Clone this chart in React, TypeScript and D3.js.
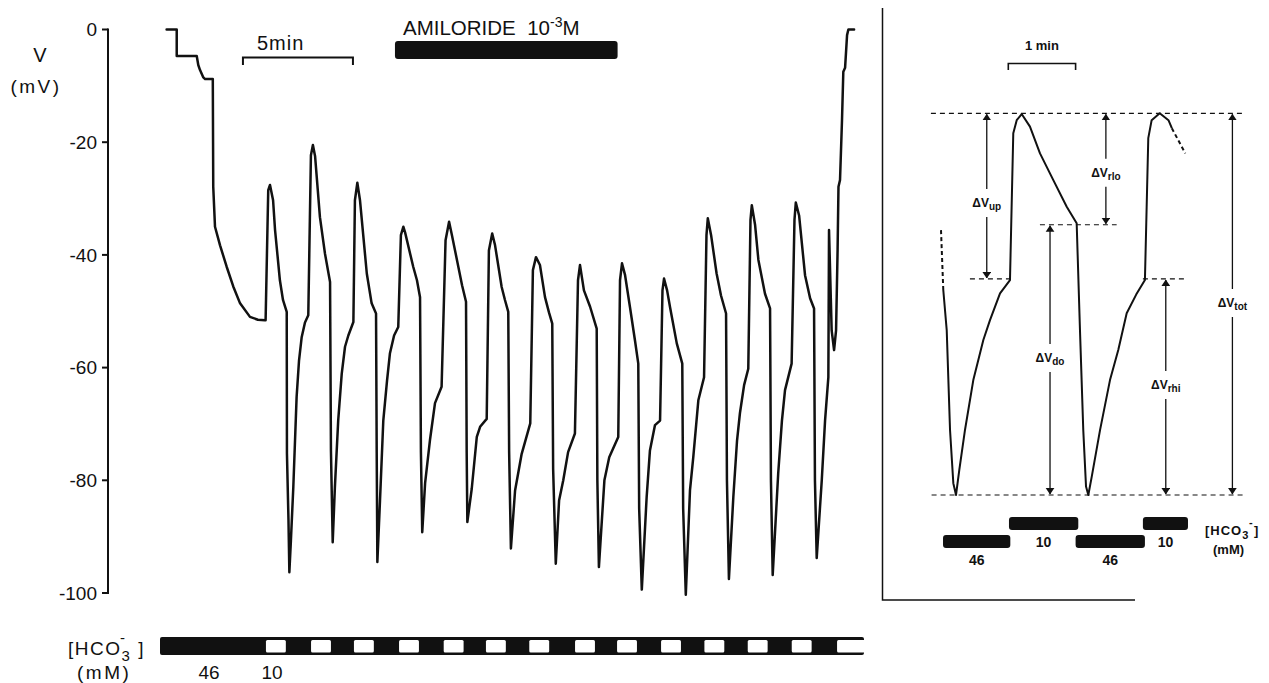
import * as d3 from "d3";

// ---- main record: time (min) vs membrane potential (mV) ----
const vTicks = [0, -20, -40, -60, -80, -100];

const membranePotential: [number, number][] = [
  [0.3, 0], [0.76, 0], [0.76, -4.7], [1.67, -4.7], [1.74, -6.3], [1.82, -7.2], [1.97, -8.5],
  [2.05, -8.8], [2.4, -8.8], [2.42, -27.9], [2.5, -35.0], [2.73, -38.3], [3.03, -42.1],
  [3.33, -45.6], [3.64, -48.6], [4.09, -51.0], [4.45, -51.5], [4.77, -51.6],
  // cycle 1
  [4.8, -51.6], [4.92, -28.5], [5.0, -27.6], [5.14, -30.3], [5.23, -35.6], [5.45, -44.5],
  [5.59, -48.0], [5.76, -50.1], [5.77, -75.2], [5.84, -87.1], [5.88, -96.3], [5.95, -90.7],
  [6.06, -81.2], [6.21, -65.2], [6.32, -58.7], [6.44, -54.6], [6.59, -52.0], [6.74, -50.7],
  // cycle 2
  [6.86, -22.3], [6.95, -20.5], [7.05, -22.5], [7.27, -33.3], [7.5, -39.8], [7.73, -44.8],
  [7.77, -74.7], [7.85, -91.0], [7.95, -81.2], [8.1, -69.4], [8.26, -61.1], [8.41, -56.3],
  [8.56, -54.3], [8.79, -51.9],
  // cycle 3
  [8.86, -30.3], [8.97, -27.2], [9.09, -30.3], [9.4, -43.3], [9.62, -48.6], [9.82, -50.4],
  [9.85, -75.0], [9.88, -94.5], [10.0, -83.6], [10.15, -69.4], [10.32, -62.3], [10.45, -57.5],
  [10.64, -54.3], [10.83, -52.8],
  // cycle 4
  [10.95, -36.5], [11.06, -35.0], [11.14, -36.0], [11.51, -42.1], [11.68, -44.5], [11.82, -47.5],
  [11.86, -75.0], [11.92, -89.2], [12.05, -80.5], [12.27, -72.9], [12.5, -66.3], [12.8, -63.4],
  // cycle 5
  [12.98, -37.4], [13.14, -34.1], [13.27, -36.5], [13.56, -42.1], [13.73, -45.4], [13.91, -48.3],
  [13.94, -75.0], [13.97, -87.4], [14.17, -81.5], [14.4, -72.3], [14.55, -70.5], [14.85, -69.1],
  // cycle 6
  [14.95, -39.2], [15.1, -36.2], [15.23, -38.3], [15.53, -45.7], [15.68, -48.0], [15.83, -50.1],
  [15.87, -75.0], [15.95, -92.1], [16.14, -81.8], [16.44, -75.3], [16.83, -69.9],
  // cycle 7
  [16.95, -42.7], [17.09, -40.4], [17.27, -41.8], [17.5, -47.5], [17.68, -50.2], [17.83, -52.2],
  [17.87, -78.0], [17.99, -94.8], [18.14, -83.6], [18.33, -80.0], [18.55, -75.0], [18.86, -71.7],
  // cycle 8
  [19.0, -44.5], [19.09, -41.8], [19.27, -46.3], [19.55, -49.2], [19.85, -53.1], [19.88, -80.0],
  [19.95, -95.4], [20.2, -80.0], [20.42, -75.9], [20.83, -72.3],
  // cycle 9
  [20.91, -44.5], [21.0, -41.5], [21.14, -43.6], [21.36, -49.2], [21.59, -55.2], [21.74, -59.3],
  [21.78, -85.0], [21.9, -99.4], [22.12, -83.0], [22.27, -74.7], [22.5, -70.2], [22.73, -69.4],
  // cycle 10
  [22.84, -46.3], [22.91, -44.2], [23.05, -46.3], [23.18, -49.2], [23.49, -55.7], [23.74, -59.3],
  [23.78, -85.0], [23.9, -100.3], [24.09, -81.8], [24.24, -75.9], [24.47, -65.8], [24.73, -61.7],
  // cycle 11
  [24.84, -36.5], [24.9, -33.5], [25.05, -36.5], [25.3, -43.3], [25.5, -47.2], [25.73, -50.4],
  [25.77, -80.0], [25.86, -97.5], [26.06, -83.0], [26.23, -72.9], [26.36, -68.1], [26.55, -63.1],
  [26.74, -60.2],
  // cycle 12
  [26.84, -33.8], [26.9, -31.2], [27.05, -34.7], [27.2, -40.9], [27.5, -46.9], [27.73, -49.5],
  [27.77, -80.0], [27.85, -96.8], [28.1, -78.8], [28.27, -69.4], [28.41, -64.0], [28.71, -59.3],
  // cycle 13 + washout
  [28.84, -33.8], [28.9, -30.7], [29.05, -33.0], [29.32, -43.6], [29.55, -47.7], [29.73, -49.5],
  [29.77, -80.0], [29.85, -93.8], [30.08, -80.0], [30.23, -69.4], [30.38, -61.7], [30.41, -35.6],
  [30.53, -53.4], [30.64, -56.9], [30.73, -53.4], [30.8, -39.1], [30.84, -27.9], [30.91, -26.7],
  [31.0, -16.1], [31.06, -7.5], [31.14, -6.8], [31.23, -1.0], [31.29, 0], [31.55, 0],
];

// 10 mM HCO3- periods (min); rest of the bar is 46 mM
const lowHco3: [number, number][] = [
  [4.77, 5.72], [6.82, 7.77], [8.77, 9.72], [10.82, 11.77], [12.85, 13.8], [14.77, 15.72],
  [16.74, 17.69], [18.82, 19.77], [20.73, 21.68], [22.73, 23.68], [24.7, 25.65], [26.67, 27.62],
  [28.67, 29.62], [30.73, 32.1],
];
const recordEnd = 32;
const amiloride: [number, number] = [10.68, 20.8];
const scaleBar: [number, number] = [3.77, 8.77];

// ---- inset: one schematic cycle (min, relative mV) ----
const insetDashHead: [number, number][] = [[0, -30.6], [0.034, -46.3]];
const insetTrace: [number, number][] = [
  [0.034, -46.3], [0.085, -56.8], [0.134, -82.9], [0.183, -96.9], [0.223, -100], [0.272, -93.4],
  [0.357, -82.9], [0.48, -69.9], [0.629, -59.4], [0.728, -54.2], [0.877, -47.2], [1.025, -43.7],
  [1.074, -5.2], [1.125, -1.8], [1.199, -0.2], [1.322, -3.5], [1.471, -10.5], [1.669, -17.5],
  [1.868, -24.5], [2.016, -28.8], [2.065, -56.8], [2.114, -83.0], [2.155, -97.8], [2.189, -100],
  [2.24, -95.2], [2.363, -83.0], [2.511, -69.9], [2.634, -62.0], [2.759, -52.4], [2.9, -47.5],
  [3.03, -43.7], [3.08, -6.5], [3.13, -1.8], [3.25, 0], [3.38, -1.8], [3.43, -3.9],
];
const insetDashTail: [number, number][] = [[3.43, -3.9], [3.63, -10.5]];

const levelPeak = 0;
const levelRlo = -29.2;
const levelUp = -43.4;
const levelTrough = -100;

const insetGuides = [
  { t0: -0.15, t1: 4.52, v: levelPeak },
  { t0: 1.47, t1: 2.61, v: levelRlo },
  { t0: 0.43, t1: 1.03, v: levelUp },
  { t0: 3.0, t1: 3.63, v: levelUp },
  { t0: -0.14, t1: 4.52, v: levelTrough },
];

const insetArrows = [
  { sub: "up", t: 0.68, from: levelPeak, to: levelUp, lv: -23.5 },
  { sub: "rlo", t: 2.45, from: levelPeak, to: levelRlo, lv: -15.6 },
  { sub: "do", t: 1.62, from: levelRlo, to: levelTrough, lv: -64.1 },
  { sub: "rhi", t: 3.34, from: levelUp, to: levelTrough, lv: -71.2 },
  { sub: "tot", t: 4.33, from: levelPeak, to: levelTrough, lv: -49.7 },
];

const insetHco3 = [
  { c: "46", t0: 0.03, t1: 1.03 },
  { c: "10", t0: 1.01, t1: 2.04 },
  { c: "46", t0: 2.0, t1: 3.03 },
  { c: "10", t0: 3.0, t1: 3.67 },
];

const FONT = "'Liberation Sans', Arial, sans-serif";

export default function App() {
  const x = d3.scaleLinear().domain([0, recordEnd]).range([160, 864]);
  const y = d3.scaleLinear().domain([0, -100]).range([29.5, 593]);
  const line = d3.line<[number, number]>().x((d) => x(d[0])).y((d) => y(d[1]));

  const xi = d3.scaleLinear().domain([0, 1]).range([941, 1008.3]);
  const yi = d3.scaleLinear().domain([0, -100]).range([113.3, 495]);
  const lineIn = d3.line<[number, number]>().x((d) => xi(d[0])).y((d) => yi(d[1]));

  const axisX = 108;
  const barTop = 637;
  const barBot = 655;

  return (
    <div style={{ position: "absolute", left: 0, top: 0 }}>
      <svg width={1269} height={683} style={{ display: "block", background: "#fff" }} fontFamily={FONT}>
        <defs>
          <marker id="ah" viewBox="0 0 6 8" refX="5.5" refY="4" markerWidth="5" markerHeight="7" orient="auto">
            <path d="M0,0 L6,4 L0,8 Z" fill="#111" />
          </marker>
        </defs>

        {/* y axis */}
        <line x1={axisX} x2={axisX} y1={y(0) - 1} y2={y(-100) + 1} stroke="#111" strokeWidth={2} />
        {vTicks.map((t) => (
          <g key={t}>
            <line x1={axisX - 6} x2={axisX} y1={y(t)} y2={y(t)} stroke="#111" strokeWidth={2} />
            <text x={97} y={y(t)} dy="0.36em" textAnchor="end" fontSize={19} fill="#111">
              {t === 0 ? "0" : `-${Math.abs(t)}`}
            </text>
          </g>
        ))}
        <text x={40} y={62} textAnchor="middle" fontSize={20} fill="#111">V</text>
        <text x={36} y={93} textAnchor="middle" fontSize={19} letterSpacing={2.5} fill="#111">(mV)</text>

        {/* 5 min scale bar */}
        <path
          d={`M${x(scaleBar[0])},65 V57.5 H${x(scaleBar[1])} V65`}
          fill="none"
          stroke="#111"
          strokeWidth={2}
        />
        <text x={257} y={50} fontSize={20} letterSpacing={1} fill="#111">5min</text>

        {/* amiloride */}
        <text x={403} y={35} fontSize={20.5} fill="#111">
          AMILORIDE{"\u00a0\u00a0"}10
          <tspan dy={-8} fontSize={14}>-3</tspan>
          <tspan dy={8}>M</tspan>
        </text>
        <rect
          x={x(amiloride[0])}
          y={41}
          width={x(amiloride[1]) - x(amiloride[0])}
          height={18}
          rx={3}
          fill="#111"
        />

        {/* membrane potential trace */}
        <path
          d={line(membranePotential) ?? ""}
          fill="none"
          stroke="#111"
          strokeWidth={2.5}
          strokeLinejoin="round"
          strokeLinecap="round"
        />

        {/* HCO3 bar */}
        <rect x={x(0)} y={barTop} width={x(recordEnd) - x(0)} height={barBot - barTop} rx={2} fill="#111" />
        {lowHco3.map(([a, b], i) => (
          <rect
            key={i}
            x={x(a) + 1}
            y={barTop + 3}
            width={Math.min(x(b), x(recordEnd) + 2) - x(a) - 1}
            height={barBot - barTop - 5.5}
            rx={1.5}
            fill="#fff"
          />
        ))}
        <text x={68} y={655} fontSize={19} letterSpacing={1.5} fill="#111">
          [HCO
          <tspan dy={6} fontSize={15}>3</tspan>
          <tspan dy={-6}>{"\u00a0"}]</tspan>
        </text>
        <text x={120} y={643} fontSize={15} fill="#111">-</text>
        <text x={77} y={679} fontSize={19} letterSpacing={2.5} fill="#111">(mM)</text>
        <text x={209} y={679} textAnchor="middle" fontSize={19} fill="#111">46</text>
        <text x={272} y={679} textAnchor="middle" fontSize={19} fill="#111">10</text>

        {/* ---------- inset ---------- */}
        <path d="M882.5,8 V600 H1135" fill="none" stroke="#111" strokeWidth={1.5} />

        {/* 1 min bar */}
        <path d={`M${xi(1)},70 V63.5 H${xi(2)} V70`} fill="none" stroke="#111" strokeWidth={1.6} />
        <text x={xi(1.5)} y={50} textAnchor="middle" fontSize={13} fontWeight="bold" fill="#111">
          1 min
        </text>

        {insetGuides.map((g, i) => (
          <line
            key={i}
            x1={xi(g.t0)}
            x2={xi(g.t1)}
            y1={yi(g.v)}
            y2={yi(g.v)}
            stroke="#111"
            strokeWidth={1.2}
            strokeDasharray="5,4"
          />
        ))}

        <path d={lineIn(insetDashHead) ?? ""} fill="none" stroke="#111" strokeWidth={2} strokeDasharray="4,3" />
        <path d={lineIn(insetTrace) ?? ""} fill="none" stroke="#111" strokeWidth={2} strokeLinejoin="round" />
        <path d={lineIn(insetDashTail) ?? ""} fill="none" stroke="#111" strokeWidth={2} strokeDasharray="4,3" />

        {insetArrows.map((a) => {
          const ax = xi(a.t);
          const ly = yi(a.lv);
          return (
            <g key={a.sub}>
              <line x1={ax} x2={ax} y1={ly - 14} y2={yi(a.from) + 1} stroke="#111" strokeWidth={1.3} markerEnd="url(#ah)" />
              <line x1={ax} x2={ax} y1={ly + 14} y2={yi(a.to) - 1} stroke="#111" strokeWidth={1.3} markerEnd="url(#ah)" />
              <text x={ax} y={ly} dy="0.35em" textAnchor="middle" fontSize={12} fontWeight="bold" fill="#111">
                {"\u0394V"}
                <tspan dy={3} fontSize={10}>{a.sub}</tspan>
              </text>
            </g>
          );
        })}

        {insetHco3.map((b, i) => {
          const high = b.c === "46";
          const top = high ? 535 : 517;
          return (
            <g key={i}>
              <rect x={xi(b.t0)} y={top} width={xi(b.t1) - xi(b.t0)} height={13} rx={3} fill="#111" />
              <text
                x={xi((b.t0 + b.t1) / 2)}
                y={high ? 565 : 547}
                textAnchor="middle"
                fontSize={14}
                fontWeight="bold"
                fill="#111"
              >
                {b.c}
              </text>
            </g>
          );
        })}
        <text x={1205} y={535} fontSize={13} fontWeight="bold" letterSpacing={1} fill="#111">
          [HCO
          <tspan dy={4} fontSize={11}>3</tspan>
          <tspan dy={-4}>{"\u00a0"}]</tspan>
        </text>
        <text x={1249} y={526} fontSize={11} fontWeight="bold" fill="#111">-</text>
        <text x={1213} y={554} fontSize={13} fontWeight="bold" fill="#111">(mM)</text>
      </svg>
    </div>
  );
}
